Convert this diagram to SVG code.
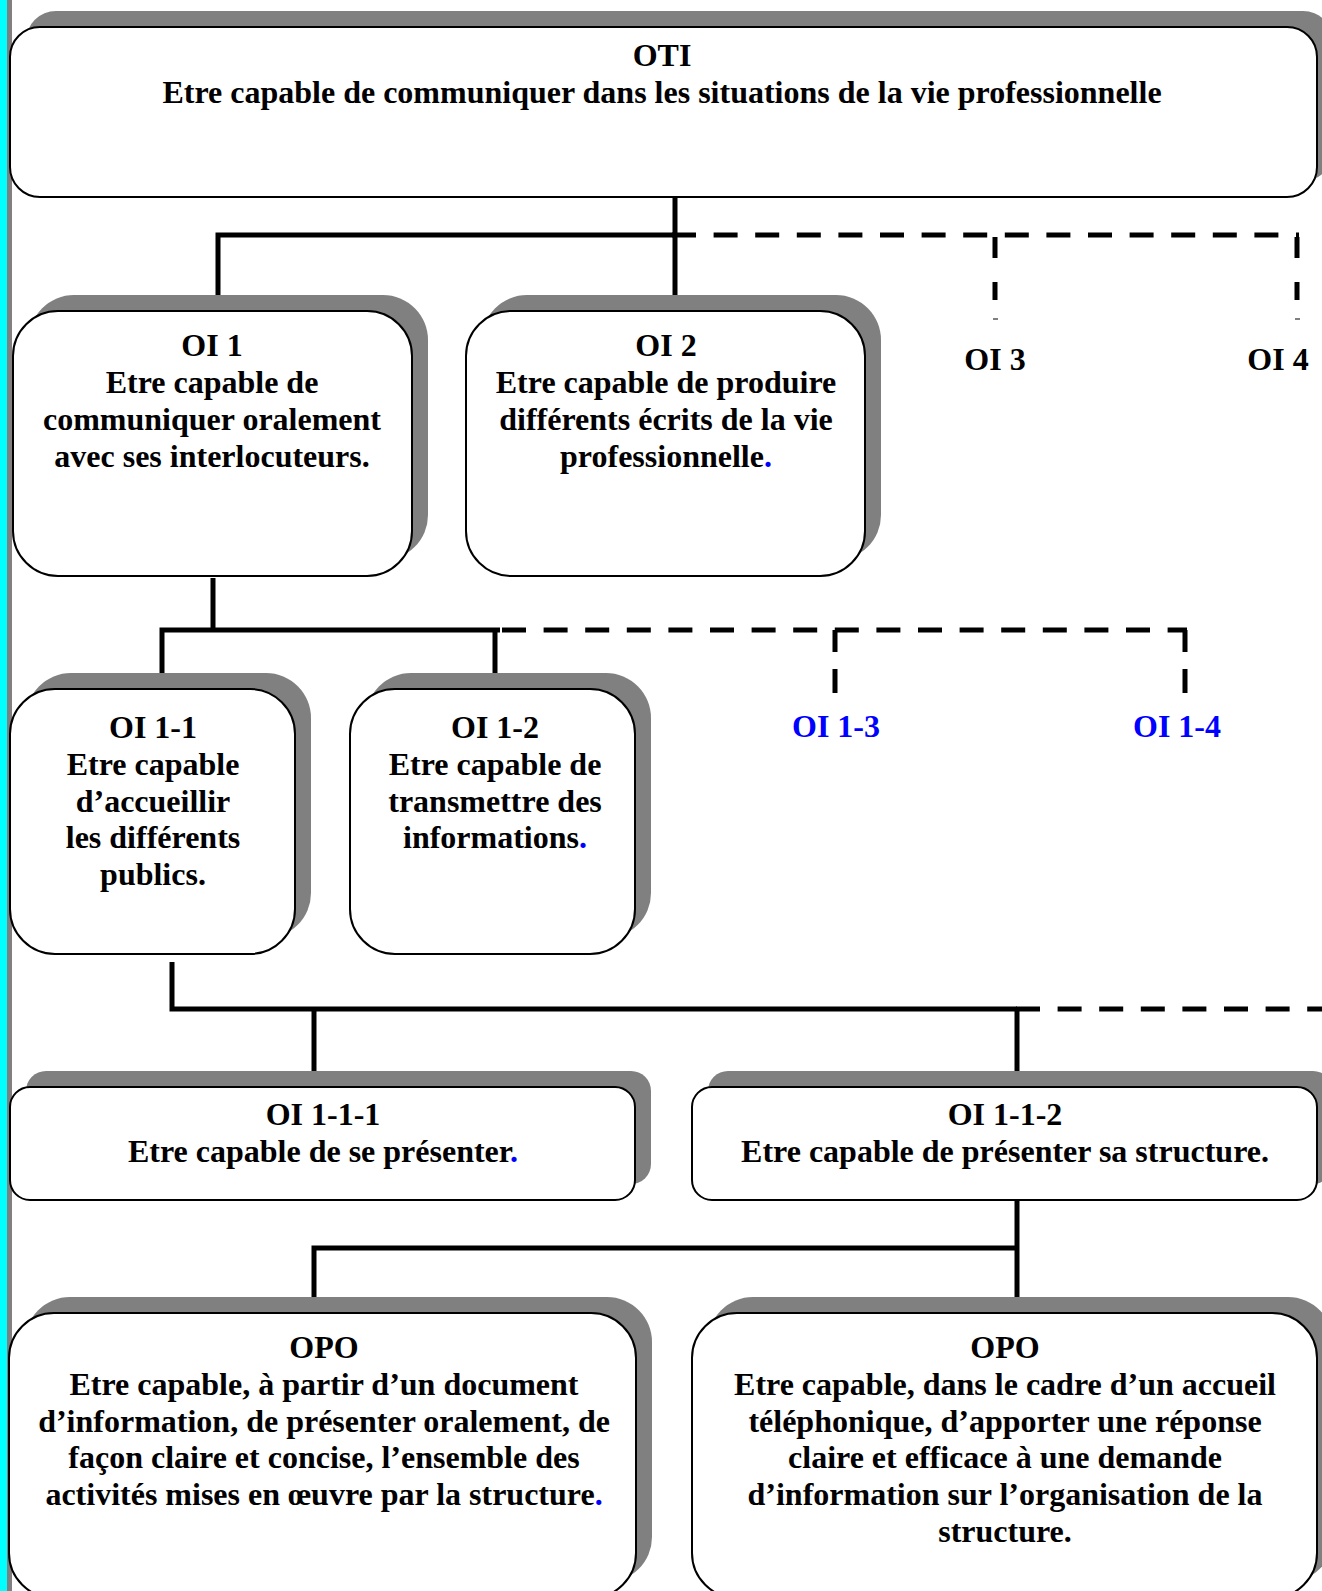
<svg xmlns="http://www.w3.org/2000/svg" width="1322" height="1591" viewBox="0 0 1322 1591">
<style>
.sh{fill:#808080}
.bx{fill:#fff;stroke:#000;stroke-width:2}
.t{font-family:"Liberation Serif","Times New Roman",serif;font-weight:bold;font-size:32px;text-anchor:middle;fill:#000}
.bl{fill:#0000ff}
.ln{stroke:#000;stroke-width:5;fill:none}
.dl{stroke:#000;stroke-width:5;fill:none;stroke-dasharray:24 17.6}
.tk{stroke:#000;stroke-width:1;fill:none}
</style>
<defs>
<clipPath id="c13"><rect x="770" y="690" width="140" height="47.5"/></clipPath>
</defs>
<rect x="0" y="0" width="1322" height="1591" fill="#fff"/>
<rect x="0" y="0" width="7" height="1591" fill="#00ffff"/>
<rect x="7" y="0" width="5" height="1591" fill="#808080"/>

<g id="connectors">
<path class="ln" d="M675 197 V295"/>
<path class="ln" d="M218 295 V235 H675"/>
<path class="dl" d="M672 235 H1299"/>
<path class="ln" d="M995 237 V258 M995 282 V300 M1297 237 V258 M1297 282 V300"/>
<path class="tk" d="M993 319 H998 M1295 319 H1300"/>
<path class="ln" d="M213 578 V630"/>
<path class="ln" d="M162 673 V630 H500"/>
<path class="ln" d="M495 630 V673"/>
<path class="dl" d="M502 630 H1187"/>
<path class="ln" d="M835 630 V652 M835 669 V693 M1185 630 V652 M1185 669 V693"/>
<path class="ln" d="M172 962 V1009 H1017"/>
<path class="ln" d="M314 1009 V1071"/>
<path class="ln" d="M1017 1009 V1071"/>
<path class="dl" d="M1016 1009 H1322"/>
<path class="ln" d="M1017 1200 V1297"/>
<path class="ln" d="M314 1297 V1248 H1017"/>
</g>

<g id="oti">
<rect class="sh" x="26" y="11" width="1307" height="170" rx="30"/>
<rect class="bx" x="10" y="27" width="1307" height="170" rx="30"/>
<text class="t" x="662" y="66">OTI</text>
<text class="t" x="662" y="103">Etre capable de communiquer dans les situations de la vie professionnelle</text>
</g>

<g id="oi1">
<rect class="sh" x="29" y="295" width="399" height="265" rx="45"/>
<rect class="bx" x="13" y="311" width="399" height="265" rx="45"/>
<text class="t" x="212" y="356">OI 1</text>
<text class="t" x="212" y="393">Etre capable de</text>
<text class="t" x="212" y="430">communiquer oralement</text>
<text class="t" x="212" y="467">avec ses interlocuteurs.</text>
</g>

<g id="oi2">
<rect class="sh" x="482" y="295" width="399" height="265" rx="45"/>
<rect class="bx" x="466" y="311" width="399" height="265" rx="45"/>
<text class="t" x="666" y="356">OI 2</text>
<text class="t" x="666" y="393">Etre capable de produire</text>
<text class="t" x="666" y="430">différents écrits de la vie</text>
<text class="t" x="666" y="467">professionnelle<tspan class="bl">.</tspan></text>
</g>

<g id="oi3">
<text class="t" x="995" y="370">OI 3</text>
</g>
<g id="oi4">
<text class="t" x="1278" y="370">OI 4</text>
</g>

<g id="oi1-1">
<rect class="sh" x="26" y="673" width="285" height="265" rx="45"/>
<rect class="bx" x="10" y="689" width="285" height="265" rx="45"/>
<text class="t" x="153" y="738">OI 1-1</text>
<text class="t" x="153" y="775">Etre capable</text>
<text class="t" x="153" y="812">d’accueillir</text>
<text class="t" x="153" y="848">les différents</text>
<text class="t" x="153" y="885">publics.</text>
</g>

<g id="oi1-2">
<rect class="sh" x="366" y="673" width="285" height="265" rx="45"/>
<rect class="bx" x="350" y="689" width="285" height="265" rx="45"/>
<text class="t" x="495" y="738">OI 1-2</text>
<text class="t" x="495" y="775">Etre capable de</text>
<text class="t" x="495" y="812">transmettre des</text>
<text class="t" x="495" y="848">informations<tspan class="bl">.</tspan></text>
</g>

<g id="oi1-3">
<text class="t bl" x="836" y="737" clip-path="url(#c13)">OI 1-3</text>
</g>
<g id="oi1-4">
<text class="t bl" x="1177" y="737">OI 1-4</text>
</g>

<g id="oi1-1-1">
<rect class="sh" x="26" y="1071" width="625" height="113" rx="20"/>
<rect class="bx" x="10" y="1087" width="625" height="113" rx="20"/>
<text class="t" x="323" y="1125">OI 1-1-1</text>
<text class="t" x="323" y="1162">Etre capable de se présenter<tspan class="bl">.</tspan></text>
</g>

<g id="oi1-1-2">
<rect class="sh" x="708" y="1071" width="625" height="113" rx="20"/>
<rect class="bx" x="692" y="1087" width="625" height="113" rx="20"/>
<text class="t" x="1005" y="1125">OI 1-1-2</text>
<text class="t" x="1005" y="1162">Etre capable de présenter sa structure.</text>
</g>

<g id="opo1">
<rect class="sh" x="25" y="1297" width="627" height="285" rx="45"/>
<rect class="bx" x="9" y="1313" width="627" height="285" rx="45"/>
<text class="t" x="324" y="1358">OPO</text>
<text class="t" x="324" y="1395">Etre capable, à partir d’un document</text>
<text class="t" x="324" y="1432">d’information, de présenter oralement, de</text>
<text class="t" x="324" y="1468">façon claire et concise, l’ensemble des</text>
<text class="t" x="324" y="1505">activités mises en œuvre par la structure<tspan class="bl">.</tspan></text>
</g>

<g id="opo2">
<rect class="sh" x="708" y="1297" width="625" height="285" rx="45"/>
<rect class="bx" x="692" y="1313" width="625" height="285" rx="45"/>
<text class="t" x="1005" y="1358">OPO</text>
<text class="t" x="1005" y="1395">Etre capable, dans le cadre d’un accueil</text>
<text class="t" x="1005" y="1432">téléphonique, d’apporter une réponse</text>
<text class="t" x="1005" y="1468">claire et efficace à une demande</text>
<text class="t" x="1005" y="1505">d’information sur l’organisation de la</text>
<text class="t" x="1005" y="1542">structure.</text>
</g>
</svg>
